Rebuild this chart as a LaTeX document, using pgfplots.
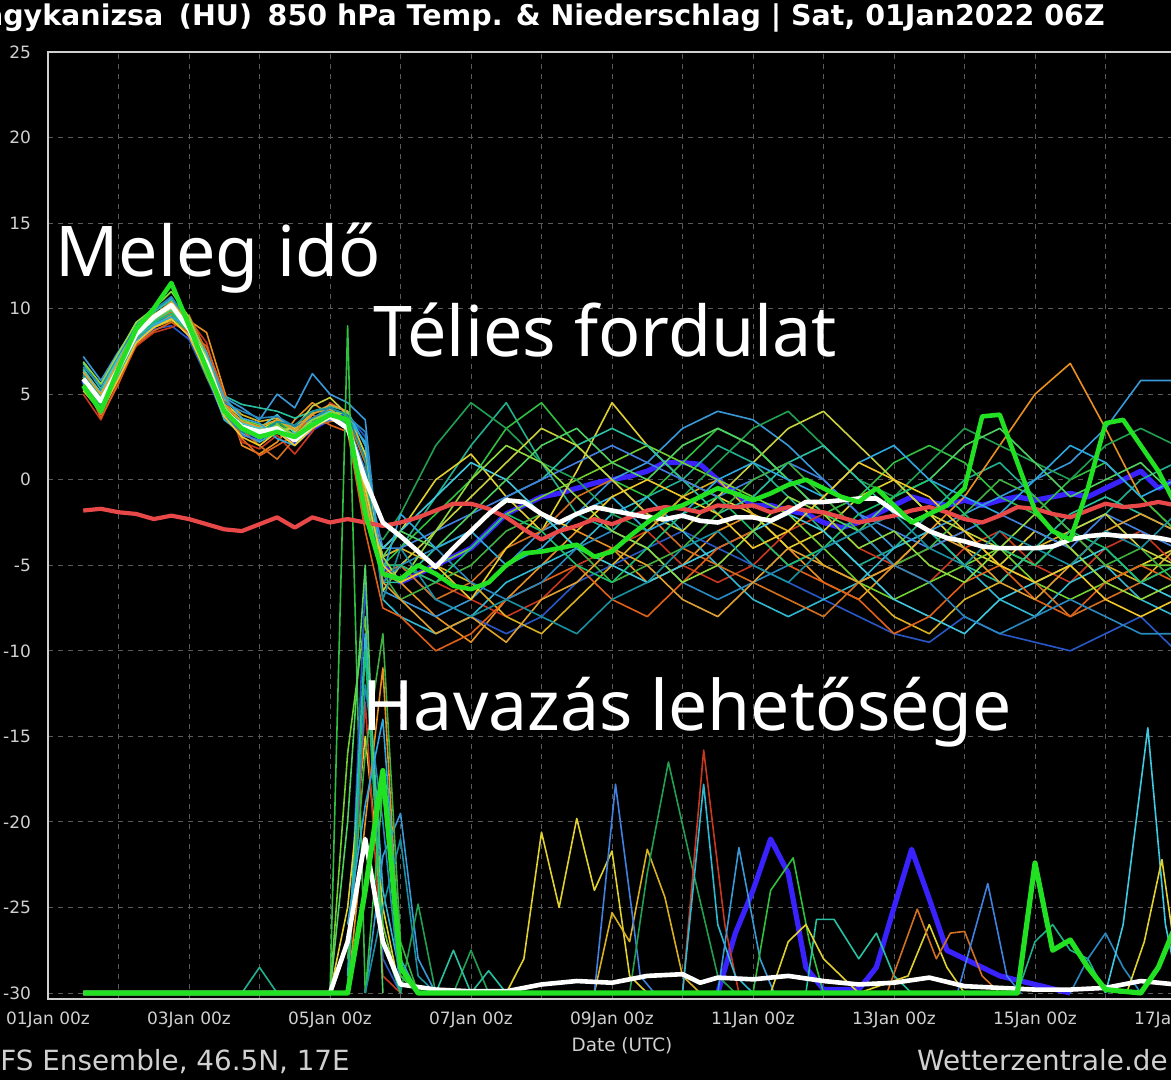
\documentclass[border=0pt]{standalone}
\usepackage{pgfplots}
\pgfplotsset{compat=1.18}
\usepackage{pgfplotstable}
\usepackage{fontspec}
\setmainfont{DejaVu Sans}
\newfontfamily\annotfont{Noto Sans}

\definecolor{c1}{HTML}{20B090}
\definecolor{c2}{HTML}{E89020}
\definecolor{c3}{HTML}{2858C8}
\definecolor{c4}{HTML}{E0D030}
\definecolor{c5}{HTML}{30C040}
\definecolor{c6}{HTML}{3898D8}
\definecolor{c7}{HTML}{C83820}
\definecolor{c8}{HTML}{70D030}
\definecolor{c9}{HTML}{30B8D0}
\definecolor{c10}{HTML}{20A050}
\definecolor{c11}{HTML}{D07020}
\definecolor{c12}{HTML}{D8B020}
\definecolor{c13}{HTML}{28C0A0}
\definecolor{c14}{HTML}{4080E0}
\definecolor{c15}{HTML}{40B040}
\definecolor{c16}{HTML}{40C8E0}
\definecolor{c17}{HTML}{C8D040}
\definecolor{c18}{HTML}{E06018}
\definecolor{c19}{HTML}{2888C0}
\definecolor{c20}{HTML}{50D060}
\definecolor{c21}{HTML}{18C070}
\definecolor{c22}{HTML}{E0A030}
\definecolor{c23}{HTML}{2CA8E0}
\definecolor{c24}{HTML}{90D840}
\definecolor{c25}{HTML}{1890A0}
\definecolor{c26}{HTML}{F0C828}
\definecolor{opgreen}{HTML}{22E022}
\definecolor{ctlblue}{HTML}{3A22FF}
\definecolor{climred}{HTML}{E84848}
\definecolor{gridgray}{HTML}{5A5A5A}
\definecolor{ticktext}{HTML}{D0D0D0}

\pgfplotstableread{
t m1 m2 m3 m4 m5 m6 m7 m8 m9 m10 m11 m12 m13 m14 m15 m16 m17 m18 m19 m20 m21 m22 m23 m24 m25 m26
0.5 6.2 5.5 5.8 6.0 6.5 7.2 5.0 6.3 5.7 6.0 5.4 6.1 6.8 5.9 5.6 6.4 5.2 5.9 6.6 6.0 5.8 6.3 5.5 6.9 6.1 5.3
0.75 4.8 3.8 4.2 4.5 5.0 5.8 3.5 4.9 4.0 4.6 4.1 4.4 5.3 4.7 4.3 5.1 4.0 3.6 5.5 4.5 4.4 5.0 3.9 5.6 4.8 4.0
1.0 6.8 6.0 6.2 6.5 7.0 7.5 5.8 6.9 6.1 6.6 6.3 6.4 7.2 6.7 6.0 7.1 6.2 5.6 7.3 6.5 6.4 6.9 6.0 7.4 6.6 5.9
1.25 8.6 8.2 8.0 8.8 8.5 9.0 7.8 8.9 8.3 8.7 8.4 8.1 9.1 8.6 8.2 8.8 8.5 7.9 9.0 8.4 8.4 8.9 8.1 9.2 8.6 8.0
1.5 9.5 9.0 8.8 9.6 9.2 9.8 8.6 9.7 9.1 9.4 9.3 8.9 9.8 9.2 9.0 9.5 9.4 8.7 9.9 9.3 9.2 9.6 9.0 10.0 9.4 8.9
1.75 10.0 9.6 9.0 10.3 9.8 10.6 8.9 10.2 9.5 10.4 9.8 9.3 10.5 9.7 9.4 10.1 10.0 9.2 10.7 9.9 9.7 10.4 9.5 11.0 10.1 9.4
2.0 9.0 9.3 8.2 9.2 8.6 9.1 9.4 9.0 8.5 8.8 9.6 8.9 9.0 8.4 8.7 8.9 9.3 8.6 9.2 8.8 8.7 9.2 9.0 9.5 8.9 8.4
2.25 6.8 8.6 6.0 6.9 6.0 6.5 8.0 7.2 6.3 6.6 7.5 7.0 6.8 6.2 6.4 6.7 7.3 7.8 6.9 6.5 6.6 7.0 7.4 7.1 6.7 6.2
2.5 4.2 5.2 3.6 4.5 4.0 4.8 4.4 4.1 3.5 4.3 4.6 4.7 4.9 3.8 3.9 4.0 4.2 5.0 4.5 4.1 4.0 4.4 4.8 4.3 3.9 3.7
2.75 3.4 2.0 2.8 3.6 3.0 4.2 2.2 3.5 2.7 3.1 2.9 3.8 4.4 2.6 3.0 3.3 3.1 2.4 4.0 3.2 3.0 3.4 3.6 3.0 2.8 2.5
3.0 3.0 1.5 2.5 2.9 2.4 3.5 1.8 3.2 2.2 2.8 2.0 3.4 4.2 2.3 2.6 3.0 2.7 1.4 3.6 2.9 2.6 3.1 3.3 2.5 2.6 2.0
3.25 3.2 2.2 3.0 3.5 3.0 5.0 2.6 3.3 2.8 3.4 1.2 3.6 4.0 3.1 3.2 3.8 2.9 2.0 3.7 3.2 3.1 3.5 2.4 3.2 3.4 2.8
3.5 2.6 3.5 2.2 2.8 2.3 4.2 1.5 2.9 2.0 2.6 2.4 3.0 3.6 2.4 2.5 2.7 3.0 2.6 3.1 2.5 2.4 2.9 2.0 2.6 3.2 2.0
3.75 3.4 4.5 3.0 3.5 3.3 6.2 2.8 3.6 3.2 3.4 3.1 3.9 4.0 3.0 3.2 3.5 4.3 3.8 3.6 3.3 3.2 3.8 3.0 3.5 4.0 3.0
4.0 3.9 3.8 3.5 4.0 3.7 5.0 4.5 3.8 3.6 4.2 3.4 4.1 4.3 3.5 3.7 4.0 4.8 3.2 4.2 3.8 3.6 4.4 3.8 3.9 4.2 3.6
4.25 3.6 4.0 3.8 3.0 3.4 4.5 3.9 3.5 4.0 3.2 3.6 3.5 4.0 3.4 3.6 3.3 3.8 2.8 3.7 3.5 3.4 4.0 3.6 3.9 3.8 3.2
4.5 -1.0 1.5 2.5 -2.0 0.5 3.5 -0.5 -1.5 2.0 -2.5 1.0 0.0 -1.0 0.5 -0.5 -2.0 1.5 -3.0 2.8 -1.5 0.0 -1.0 2.2 -1.8 1.2 -0.5
4.75 -4.5 -5.5 -6.0 -4.0 -5.0 -6.5 -5.0 -5.5 -7.0 -3.5 -5.5 -4.5 -6.0 -4.0 -5.5 -4.0 -6.5 -7.5 -6.0 -4.5 -5.0 -6.0 -5.5 -4.5 -7.0 -5.0
5.0 -4 -6 -5 -3 -4 -7 -5 -6 -8 -2 -5 -4 -6 -4 -7 -3 -5 -8 -5 -3 -5 -7 -2 -6 -4 -6
5.5 -1 -8 -7 0 -2 -8 -6 -5 -9 2 -7 -5 -4 -3 -6 -1 -3 -10 -4 -4 -6 -9 -4 -3 -7 -5
6.0 2 -9.5 -8 1.5 0 -7 -7 -4 -8 4.5 -6 -6 -3 -2 -5 1 -1 -9 -6 -2 -4 -8 -3 0 -8 -7
6.5 4.5 -7 -9 -1 3 -5 -8 -2 -6 3 -4 -8 -1 -1 -3 0 1 -7 -7 0 -2 -9.5 -5 2 -7 -4
7.0 1 -5 -8 -3 4.5 -3 -7 -1 -5 1 -3 -9 0 0 -2 -2 3 -6 -6 2 -3 -7 -4 1 -8 -2
7.5 -2 -3 -6 0.5 2 -2 -5 0 -4 0 -1 -7 2 1 -4 -4 2 -5 -4 3 -5 -6 -2 -1 -9 -3
8.0 -3 -4 -5 4.5 0 0 -4 1 -2 -2 0 -5 3 2 -6 -5 0 -7 -3 1 -6 -4 -1 -3 -7 -1
8.5 -1 -6 -4 2 -1 1 -3 2 -1 -3 -2 -3 2 1 -5 -6 -2 -8 -4 0 -4 -5 -3 -4 -6 0
9.0 0 -5 -3 0 1 3 -5 1 -3 -1 -4 -1 0 0 -4 -5 -3 -6 -6 2 -2 -7 -2 -6 -4 -1
9.5 2 -3 -4 -1 3 4 -6 0 -5 1 -5 0 -2 -1 -2 -4 -1 -4 -7 3 -1 -8 0 -5 -3 -2
10.0 1 -2 -5 -2 2 3.5 -5 -1 -7 3 -6 -2 -1 0 0 -3 1 -3 -6 2 -3 -6 1 -3 -5 -4
10.5 -1 -4 -6 -4 0 2 -3 -2 -8 4 -7 -3 1 1 1 -2 3 -5 -5 0 -5 -4 0 -1 -6 -3
11.0 -3 -6 -7 -3 -2 0 -2 -4 -7 2 -8 -5 2 0 -1 -3 4 -6 -4 -2 -4 -5 -1 -2 -4 -1
11.5 -5 -7 -8 -1 -1 -2 -4 -6 -6 0 -6 -6 0 -2 -3 -5 2 -7 -3 -3 -2 -6 1 -4 -3 1
12.0 -4 -5 -9 0 1 -4 -5 -7 -4 -1 -5 -8 -2 -3 -5 -7 0 -9 -5 -1 -1 -5 2 -3 -2 0
12.5 -2 -3 -9.5 -2 2 -3 -6 -6 -3 1 -4 -9 -3 -4 -4 -8 -2 -8 -6 0 0 -3 0 -5 -4 -1
13.0 0 -1 -8 -4 1 -2 -4 -5 -5 3 -3 -7 -5 -3 -2 -9 -3 -6 -8 2 -2 -4 -1 -6 -5 -3
13.5 1 2 -9 -5 -1 -1 -3 -4 -7 2 -5 -6 -6 -2 0 -7 -4 -5 -9 3 -4 -6 -2 -4 -3 -5
14.0 -1 5 -9.5 -3 -2 0 -5 -6 -8 1 -6 -4 -4 -3 -1 -6 -5 -7 -8 1 -5 -7 0 -2 -4 -6
14.5 -3 6.8 -10 -4 0 1 -6 -7 -6 0 -8 -3 -2 -4 -3 -5 -3 -8 -7 -1 -3 -5 2 -4 -5 -5
15.0 -2 3 -9 -6 1 3 -4 -6 -5 2 -7 -5 -1 -2 -5 -4 -2 -6 -8 0 -4 -3 1 -6 -3 -7
15.5 0 -1 -8 -5 -1 5.8 -3 -5 -7 3 -6 -6 -2 -3 -4 -6 -4 -5 -9 1 -6 -2 -1 -7 -4 -8
16.0 1 -3 -10 -4 -3 5.8 -5 -5 -8 2 -5 -4 -3 -4 -6 -7 -5 -6 -9 -1 -5 -3 0 -6 -2 -7
}\members

\begin{document}
\begin{tikzpicture}[x=0.5pt,y=0.5pt]
\useasboundingbox (-48,-81) rectangle (1123,999);
\fill[black] (-48,-81) rectangle (1123,999);
\begin{axis}[
  at={(0,0)}, anchor=south west,
  scale only axis, width=572.8125pt, height=473.5pt,
  xmin=0, xmax=16.25, ymin=-30.35, ymax=25,
  axis background/.style={fill=black},
  axis line style={draw=ticktext, line width=0.8pt},
  xtick={0,2,...,16}, minor xtick={1,3,...,15},
  xticklabels={01Jan 00z,03Jan 00z,05Jan 00z,07Jan 00z,09Jan 00z,11Jan 00z,13Jan 00z,15Jan 00z,17Jan 00z},
  ytick={-30,-25,...,25},
  major tick length=0pt, minor tick length=0pt,
  grid=both,
  major grid style={draw=gridgray, dash pattern=on 2.5pt off 2.5pt, line width=0.5pt},
  minor grid style={draw=gridgray, dash pattern=on 2.5pt off 2.5pt, line width=0.5pt},
  /pgf/number format/assume math mode=true,
  ticklabel style={font=\fontsize{8.5}{10}\selectfont, text=ticktext},
  xticklabel style={yshift=-3pt},
  yticklabel style={xshift=-5pt},
  no markers,
  every axis plot/.append style={line join=round},
]
% control run (thick blue), drawn beneath the members
\addplot[ctlblue, line width=2.6pt] coordinates {(0.5,5.8)(0.75,4.3)(1.0,6.3)(1.25,8.3)(1.5,9.2)(1.75,9.8)(2.0,8.5)(2.25,6.4)(2.5,3.9)(2.75,2.9)(3.0,2.5)(3.25,2.9)(3.5,2.2)(3.75,3.0)(4.0,3.6)(4.25,3.4)(4.5,-1.0)(4.75,-5.0)(5.0,-6.0)(5.25,-5.5)(5.5,-5.0)(5.75,-4.5)(6.0,-4.0)(6.25,-3.0)(6.5,-2.0)(6.75,-1.5)(7.0,-1.0)(7.25,-0.8)(7.5,-0.5)(7.75,-0.2)(8.0,0.0)(8.25,0.2)(8.5,0.5)(8.75,1.0)(9.0,1.0)(9.25,0.9)(9.5,0.0)(9.75,-0.8)(10.0,-1.5)(10.25,-1.5)(10.5,-1.8)(10.75,-2.0)(11.0,-2.5)(11.25,-2.8)(11.5,-2.5)(11.75,-2.0)(12.0,-1.5)(12.25,-1.0)(12.5,-1.3)(12.75,-1.5)(13.0,-1.2)(13.25,-1.5)(13.5,-1.2)(13.75,-1.0)(14.0,-1.2)(14.25,-1.0)(14.5,-0.8)(14.75,-1.0)(15.0,-0.5)(15.25,0.0)(15.5,0.5)(15.75,-0.5)(16.0,0.0)(16.25,-0.5)};
\addplot[ctlblue, line width=2.6pt] coordinates {(9.5,-30)(9.75,-26.5)(10.0,-24)(10.25,-21)(10.5,-23)(10.75,-28.5)(11.0,-29.8)(11.5,-29.8)(11.75,-28.5)(12.0,-25)(12.25,-21.6)(12.5,-24.5)(12.75,-27.5)(13.0,-28)(13.5,-29)(14.0,-29.5)(14.5,-30)};
% thin temperature members
\pgfplotsinvokeforeach{1,...,26}{
  \addplot[color=c#1, line width=0.8pt] table[x=t,y=m#1]{\members};
}
% thin precipitation members (offset at -30)
\addplot[c5, line width=0.8pt] coordinates {(4,-30)(4.25,9)(4.5,-30)};
\addplot[c8, line width=0.8pt] coordinates {(4,-30)(4.25,-16)(4.5,-8)(4.75,-26)(5,-30)};
\addplot[c3, line width=0.8pt] coordinates {(4.25,-30)(4.5,-6)(4.75,-28)(5,-30)};
\addplot[c9, line width=0.8pt] coordinates {(4.25,-29)(4.5,-9)(4.75,-24)(5,-29)(5.25,-30)};
\addplot[c2, line width=0.8pt] coordinates {(4.25,-30)(4.5,-20)(4.75,-11)(5,-29)(5.25,-30)};
\addplot[c4, line width=0.8pt] coordinates {(4.0,-30)(4.25,-25)(4.5,-15)(4.75,-25)(5,-30)};
\addplot[c6, line width=0.8pt] coordinates {(4.5,-30)(4.75,-22)(5,-19.5)(5.25,-28)(5.5,-30)};
\addplot[c10, line width=0.8pt] coordinates {(5,-30)(5.25,-24.8)(5.5,-30)(5.75,-30)(6.0,-27.5)(6.25,-30)};
\addplot[c7, line width=0.8pt] coordinates {(4.25,-30)(4.5,-13)(4.75,-29)(5,-30)};
\addplot[c15, line width=0.8pt] coordinates {(4.25,-28)(4.5,-16)(4.75,-9)(5.0,-27)(5.25,-30)};
\addplot[c19, line width=0.8pt] coordinates {(4.25,-30)(4.5,-12)(4.75,-20)(5,-30)};
\addplot[c20, line width=0.8pt] coordinates {(4.0,-30)(4.25,-20)(4.5,-5)(4.75,-30)};
\addplot[c5, line width=0.8pt] coordinates {(4.5,-30)(4.75,-18)(5.0,-29)(5.25,-30)};
\addplot[c21, line width=0.8pt] coordinates {(4.25,-30)(4.5,-10)(4.75,-27)(5,-30)};
\addplot[c23, line width=0.8pt] coordinates {(4.25,-26)(4.5,-19)(4.75,-14)(5.0,-28)(5.25,-30)};
\addplot[c25, line width=0.8pt] coordinates {(4.5,-30)(4.75,-25)(5.0,-21)(5.25,-29)(5.5,-30)};
\addplot[c1, line width=0.8pt] coordinates {(2.75,-30)(3.0,-28.5)(3.25,-30)};
\addplot[c13, line width=0.8pt] coordinates {(5.5,-30)(5.75,-27.5)(6.0,-30)(6.25,-28.7)(6.5,-30)};
\addplot[c4, line width=0.8pt] coordinates {(6.5,-30)(6.75,-28)(7.0,-20.6)(7.25,-25)(7.5,-19.8)(7.75,-24)(8.0,-21.7)(8.25,-29)(8.5,-30)};
\addplot[c12, line width=0.8pt] coordinates {(7.75,-30)(8.0,-25.3)(8.25,-27)(8.5,-21.6)(8.75,-24.4)(9.0,-29)(9.25,-30)};
\addplot[c14, line width=0.8pt] coordinates {(7.75,-30)(8.05,-17.8)(8.4,-29)(8.6,-30)};
\addplot[c10, line width=0.8pt] coordinates {(8.25,-30)(8.5,-23)(8.8,-16.5)(9.1,-22)(9.5,-29)(9.75,-30)};
\addplot[c7, line width=0.8pt] coordinates {(9.0,-30)(9.3,-15.8)(9.6,-26)(9.8,-30)};
\addplot[c9, line width=0.8pt] coordinates {(9.0,-30)(9.3,-17.8)(9.5,-26)(9.75,-29)(10,-30)};
\addplot[c6, line width=0.8pt] coordinates {(9.5,-30)(9.8,-21.5)(10.1,-28)(10.3,-30)};
\addplot[c5, line width=0.8pt] coordinates {(10.0,-30)(10.25,-24)(10.57,-22.1)(10.8,-27)(11.0,-30)};
\addplot[c13, line width=0.8pt] coordinates {(10.75,-30)(10.9,-25.7)(11.15,-25.7)(11.5,-28)(11.75,-26.5)(12.0,-29)(12.25,-30)};
\addplot[c4, line width=0.8pt] coordinates {(10.25,-30)(10.5,-27)(10.75,-26)(11.0,-28)(11.5,-30)(12.2,-29)(12.5,-26)(12.75,-28.5)(13,-30)};
\addplot[c11, line width=0.8pt] coordinates {(11.9,-30)(12.33,-25.1)(12.6,-28)(12.8,-26.5)(13.0,-26.4)(13.25,-29)(13.5,-30)};
\addplot[c14, line width=0.8pt] coordinates {(12.9,-30)(13.33,-23.6)(13.6,-29)(13.8,-30)};
\addplot[c1, line width=0.8pt] coordinates {(13.75,-30)(14.0,-27)(14.25,-26)(14.5,-27.5)(14.75,-28)(15,-30)};
\addplot[c19, line width=0.8pt] coordinates {(14.5,-30)(14.75,-28)(15.0,-26.5)(15.25,-28.5)(15.5,-30)};
\addplot[c16, line width=0.8pt] coordinates {(15.0,-30)(15.25,-26)(15.6,-14.5)(15.85,-26)(16,-29)};
\addplot[c4, line width=0.8pt] coordinates {(15.3,-30)(15.55,-27)(15.8,-22.2)(16,-28)};
% climate (red)
\addplot[climred, line width=2.1pt] coordinates {(0.5,-1.8)(0.75,-1.7)(1.0,-1.9)(1.25,-2.0)(1.5,-2.3)(1.75,-2.1)(2.0,-2.3)(2.25,-2.6)(2.5,-2.9)(2.75,-3.0)(3.0,-2.6)(3.25,-2.2)(3.5,-2.8)(3.75,-2.2)(4.0,-2.5)(4.25,-2.3)(4.5,-2.5)(4.75,-2.7)(5.0,-2.5)(5.25,-2.2)(5.5,-1.8)(5.75,-1.4)(6.0,-1.4)(6.25,-1.7)(6.5,-2.2)(6.75,-2.9)(7.0,-3.5)(7.25,-3.0)(7.5,-2.7)(7.75,-2.3)(8.0,-2.6)(8.25,-2.2)(8.5,-1.8)(8.75,-1.6)(9.0,-1.7)(9.25,-1.9)(9.5,-1.5)(9.75,-1.6)(10.0,-1.5)(10.25,-1.9)(10.5,-1.6)(10.75,-1.8)(11.0,-1.9)(11.25,-2.2)(11.5,-2.5)(11.75,-2.3)(12.0,-2.1)(12.25,-1.8)(12.5,-1.6)(12.75,-1.9)(13.0,-2.3)(13.25,-2.5)(13.5,-2.1)(13.75,-1.6)(14.0,-1.7)(14.25,-2.0)(14.5,-2.2)(14.75,-1.8)(15.0,-1.4)(15.25,-1.6)(15.5,-1.5)(15.75,-1.3)(16.0,-1.5)(16.25,-1.6)};
% ensemble mean (white)
\addplot[white, line width=2.3pt] coordinates {(0.5,5.9)(0.75,4.6)(1.0,6.5)(1.25,8.5)(1.5,9.5)(1.75,10.2)(2.0,8.8)(2.25,6.8)(2.5,4.0)(2.75,3.1)(3.0,2.8)(3.25,3.0)(3.5,2.3)(3.75,3.2)(4.0,3.7)(4.25,3.0)(4.5,0.0)(4.75,-2.5)(5.0,-3.3)(5.25,-4.2)(5.5,-5.1)(5.75,-4.0)(6.0,-3.0)(6.25,-2.0)(6.5,-1.2)(6.75,-1.3)(7.0,-2.0)(7.25,-2.5)(7.5,-2.0)(7.75,-1.6)(8.0,-1.8)(8.25,-2.0)(8.5,-2.2)(8.75,-2.3)(9.0,-2.1)(9.25,-2.4)(9.5,-2.5)(9.75,-2.2)(10.0,-2.2)(10.25,-2.4)(10.5,-1.9)(10.75,-1.3)(11.0,-1.3)(11.25,-1.2)(11.5,-1.1)(11.75,-1.1)(12.0,-1.8)(12.25,-2.4)(12.5,-3.0)(12.75,-3.4)(13.0,-3.6)(13.25,-3.9)(13.5,-4.0)(13.75,-4.0)(14.0,-4.0)(14.25,-3.9)(14.5,-3.5)(14.75,-3.3)(15.0,-3.2)(15.25,-3.3)(15.5,-3.3)(15.75,-3.4)(16.0,-3.6)(16.25,-3.7)};
\addplot[white, line width=2.3pt] coordinates {(0.5,-30)(4.0,-30)(4.25,-27)(4.5,-21)(4.75,-27)(5.0,-29.5)(5.5,-29.8)(6.0,-29.9)(6.5,-29.9)(7.0,-29.5)(7.5,-29.3)(8.0,-29.4)(8.5,-29.0)(9.0,-28.9)(9.25,-29.4)(9.5,-29.1)(10.0,-29.2)(10.5,-29.0)(11.0,-29.3)(11.5,-29.5)(12.0,-29.4)(12.5,-29.1)(13.0,-29.6)(13.5,-29.7)(14.0,-29.8)(14.5,-29.8)(15.0,-29.7)(15.5,-29.3)(16.0,-29.5)(16.25,-29.6)};
% operational run (thick green)
\addplot[opgreen, line width=2.3pt] coordinates {(0.5,5.5)(0.75,4.0)(1.0,6.5)(1.25,8.8)(1.5,10.0)(1.75,11.5)(2.0,9.0)(2.25,6.5)(2.5,4.0)(2.75,3.0)(3.0,2.5)(3.25,2.8)(3.5,2.5)(3.75,3.2)(4.0,3.8)(4.25,3.5)(4.5,-2.0)(4.75,-5.5)(5.0,-5.8)(5.25,-5.0)(5.5,-5.5)(5.75,-6.2)(6.0,-6.4)(6.25,-6.0)(6.5,-5.0)(6.75,-4.3)(7.0,-4.2)(7.25,-4.0)(7.5,-3.8)(7.75,-4.5)(8.0,-4.2)(8.25,-3.3)(8.5,-2.5)(8.75,-1.8)(9.0,-1.5)(9.25,-1.0)(9.5,-0.5)(9.75,-0.8)(10.0,-1.2)(10.25,-0.8)(10.5,-0.3)(10.75,0.0)(11.0,-0.5)(11.25,-1.0)(11.5,-1.3)(11.75,-0.5)(12.0,-1.5)(12.25,-2.5)(12.5,-2.0)(12.75,-1.5)(13.0,-0.5)(13.25,3.7)(13.5,3.8)(13.75,1.0)(14.0,-1.8)(14.25,-3.0)(14.5,-3.5)(14.75,-0.5)(15.0,3.3)(15.25,3.5)(15.5,2.0)(15.75,0.5)(16.0,-1.5)(16.25,-2.0)};
\addplot[opgreen, line width=2.6pt] coordinates {(0.5,-30)(4.25,-30)(4.5,-24)(4.75,-17)(5.0,-28.5)(5.25,-30)(13.75,-30)(14.0,-22.4)(14.25,-27.5)(14.5,-26.9)(14.75,-28.5)(15.0,-29.8)(15.5,-30)(15.75,-28.5)(16.0,-26)(16.25,-27)};
\end{axis}
% titles and annotations
\node[anchor=base east, text=white, inner sep=0pt, font=\fontsize{14.25}{16}\bfseries] at (1057,973) {Nagykanizsa\hspace{0.55em}(HU)\hspace{0.55em}850 hPa Temp. \& Niederschlag | Sat, 01Jan2022 06Z};
\node[anchor=base west, text=ticktext, inner sep=0pt, font=\fontsize{13.9}{16}\selectfont] at (-69.5,-72) {GFS Ensemble, 46.5N, 17E};
\node[anchor=base east, text=ticktext, inner sep=0pt, font=\fontsize{13.9}{16}\selectfont] at (1120,-72) {Wetterzentrale.de};
\node[anchor=base, text=ticktext, inner sep=0pt, font=\fontsize{9.2}{11}\selectfont] at (574,-53) {Date (UTC)};
\node[anchor=base west, text=white, inner sep=0pt, font=\annotfont\fontsize{35}{40}\selectfont] at (7,722) {Meleg idő};
\node[anchor=base west, text=white, inner sep=0pt, font=\annotfont\fontsize{35}{40}\selectfont] at (325,642) {Télies fordulat};
\node[anchor=base west, text=white, inner sep=0pt, font=\annotfont\fontsize{34.8}{40}\selectfont] at (314,268) {Havazás lehetősége};
\end{tikzpicture}
\end{document}
